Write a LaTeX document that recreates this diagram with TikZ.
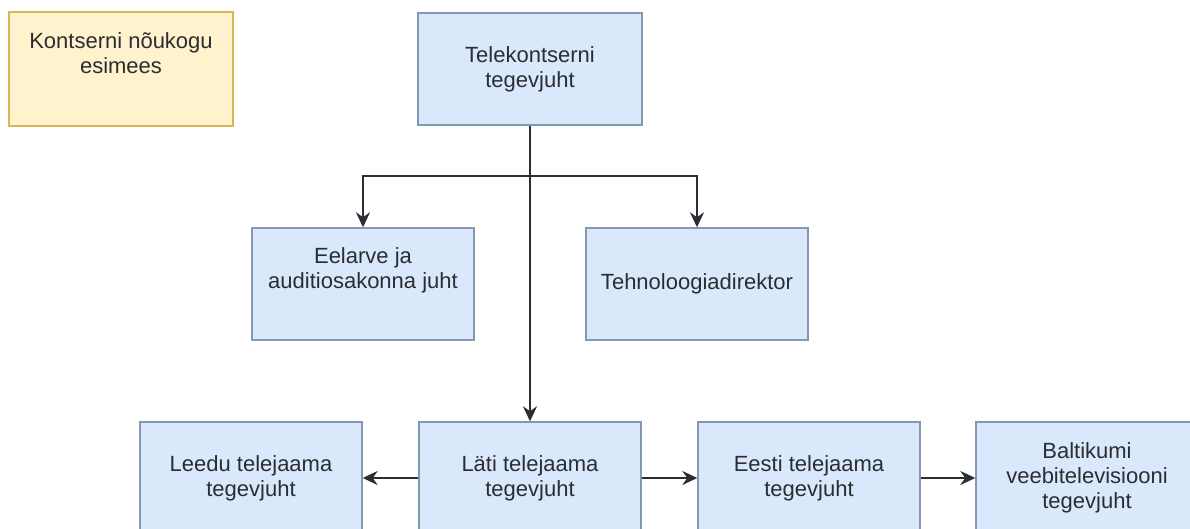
\documentclass[tikz,border=0pt]{standalone}
\usepackage{fontspec}
\setmainfont{Liberation Sans}
\usetikzlibrary{arrows.meta}
\definecolor{boxfill}{HTML}{DAE8FC}
\definecolor{boxline}{HTML}{8497B5}
\definecolor{notefill}{HTML}{FFF2CC}
\definecolor{noteline}{HTML}{D6B656}
\definecolor{ink}{HTML}{2A2D33}
\begin{document}
\begin{tikzpicture}[x=0.5pt,y=-0.5pt,
  unit/.style={draw=boxline, fill=boxfill, line width=0.7pt,
    minimum width=111pt, minimum height=56pt, inner sep=0pt,
    align=center, text=ink, font=\fontsize{11}{12.5}\selectfont},
  note/.style={unit, draw=noteline, fill=notefill,
    minimum width=112pt, minimum height=57pt},
  link/.style={draw=ink, line width=1.1pt,
    -{Stealth[length=7.5pt,width=7pt,inset=2.5pt]}},
]
\useasboundingbox (0,0) rectangle (1190,529);
\clip (0,0) rectangle (1190,529);

% board chair (stands apart)
\node[note] (chair) at (121,69) {Kontserni nõukogu\\esimees\\\strut};

% group CEO and direct reports
\node[unit, minimum width=112pt] (ceo) at (530,69) {Telekontserni\\tegevjuht};
\node[unit] (budget) at (363,284) {Eelarve ja\\auditiosakonna juht\\\strut};
\node[unit] (tech) at (697,284) {Tehnoloogiadirektor};

% TV station heads
\node[unit] (lt) at (251,478) {Leedu telejaama\\tegevjuht};
\node[unit] (lv) at (530,478) {Läti telejaama\\tegevjuht};
\node[unit] (ee) at (809,478) {Eesti telejaama\\tegevjuht};
\node[unit] (web) at (1087,478) {Baltikumi\\veebitelevisiooni\\tegevjuht};

% connectors
\coordinate (split) at (530,176);
\draw[link] (ceo.south) -- (lv.north);
\draw[link] (split) -| (budget.north);
\draw[link] (split) -| (tech.north);
\draw[link] (lv.west) -- (lt.east);
\draw[link] (lv.east) -- (ee.west);
\draw[link] (ee.east) -- (web.west);
\end{tikzpicture}
\end{document}
